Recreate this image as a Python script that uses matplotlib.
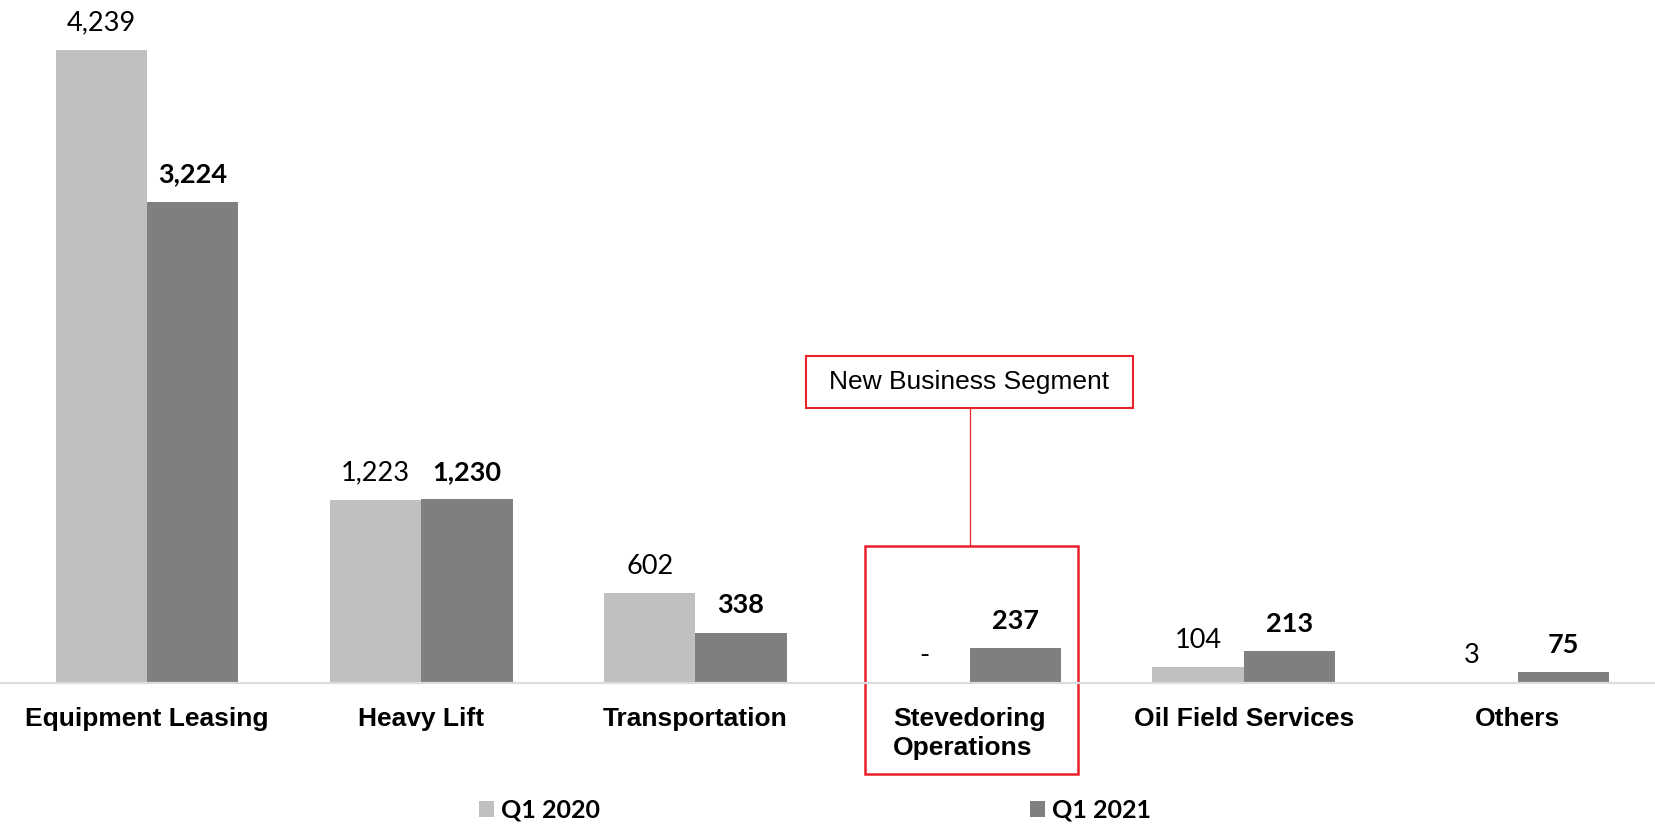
import matplotlib
matplotlib.use('Agg')
import matplotlib.pyplot as plt
from matplotlib.patches import Rectangle
from matplotlib.transforms import blended_transform_factory

# ── dados ─────────────────────────────────────────────
categorias = ["Equipment Leasing", "Heavy Lift", "Transportation",
              "Stevedoring\nOperations", "Oil Field Services", "Others"]
q1_2020 = [4239, 1223, 602, 0, 104, 3]
q1_2021 = [3224, 1230, 338, 237, 213, 75]
series = ["Q1 2020", "Q1 2021"]

COR_CLARA = '#BFBFBF'
COR_ESCURA = '#7F7F7F'
VERMELHO = '#E8212B'

def fmt(v):
    return "-" if v == 0 else f"{v:,}"

fig = plt.figure(figsize=(16.55, 8.25), dpi=100)
ax = fig.add_axes([0, 142 / 825, 1, 683 / 825])

x = list(range(len(categorias)))
w = 1 / 3
b1 = ax.bar([i - w / 2 for i in x], q1_2020, width=w, color=COR_CLARA, label=series[0])
b2 = ax.bar([i + w / 2 for i in x], q1_2021, width=w, color=COR_ESCURA, label=series[1])

ax.set_xlim(-0.536, 5.5)
ax.set_ylim(0, 4574)

# rótulos de valor
for barras, vals, peso in [(b1, q1_2020, 'normal'), (b2, q1_2021, 'bold')]:
    for r, v in zip(barras, vals):
        ax.annotate(fmt(v), (r.get_x() + r.get_width() / 2, r.get_height()),
                    xytext=(0, 19.5), textcoords='offset points',
                    ha='center', va='center', fontsize=19.5, fontweight=peso,
                    family='Lato', color='black')

# rótulos das categorias
for i, c in zip(x, categorias):
    ax.annotate(c, (i, 0), xytext=(0, -17.5), textcoords='offset points',
                ha='center', va='top', multialignment='left', fontsize=19,
                fontweight='bold', family='Liberation Sans', color='black',
                linespacing=1.25)

ax.set_xticks([])
ax.set_yticks([])
for s in ['top', 'left', 'right']:
    ax.spines[s].set_visible(False)
ax.spines['bottom'].set_color('#D9DDE3')
ax.spines['bottom'].set_linewidth(1.6)

# destaque "New Business Segment"
idx = 3
tr = blended_transform_factory(ax.transData, fig.transFigure)
ax.add_patch(Rectangle((idx - 0.38, 0.0618), 0.776, 0.338 - 0.0618, transform=tr,
                       fill=False, edgecolor=VERMELHO, lw=1.8, clip_on=False))
ax.add_patch(Rectangle((idx - 0.598, 0.5055), 1.196, 0.063, transform=tr,
                       fill=False, edgecolor=VERMELHO, lw=1.5, clip_on=False))
ax.plot([idx, idx], [0.338, 0.5055], transform=tr, color=VERMELHO, lw=0.9, clip_on=False)
ax.text(idx, 0.537, "New Business Segment", transform=tr, ha='center', va='center',
        fontsize=19, family='Liberation Sans', color='black')

# legenda
leg = fig.legend(handles=[b1, b2], loc='center', bbox_to_anchor=(815 / 1655, 15 / 825),
                 ncol=2, frameon=False, borderpad=0, handlelength=0.6, handleheight=0.6,
                 handletextpad=0.3, columnspacing=17.2,
                 prop={'family': 'Lato', 'weight': 'bold', 'size': 18})

plt.savefig('out.png', dpi=100)
